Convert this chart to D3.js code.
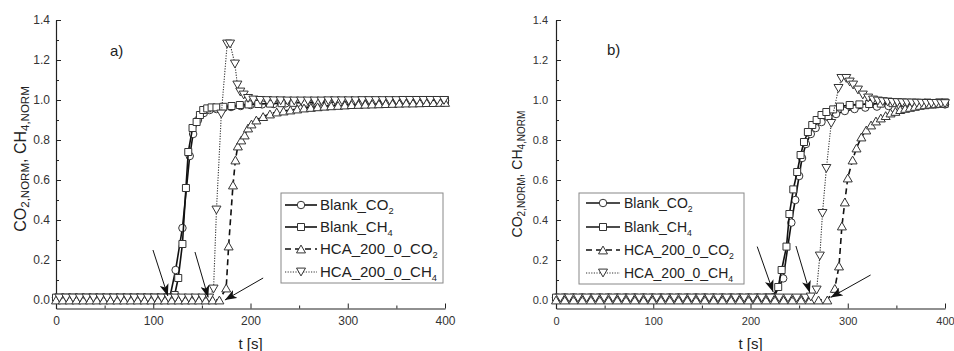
<!DOCTYPE html>
<html>
<head>
<meta charset="utf-8">
<title>Breakthrough curves</title>
<style>
  body { margin: 0; background: #fff; }
  svg { display: block; font-family: "Liberation Sans", Arial, sans-serif; }
  .axis path, .axis line { stroke: #222; }
  .axis text { fill: #333; font-family: "Liberation Sans", Arial, sans-serif; }
</style>
</head>
<body>
<svg width="954" height="351"></svg>
<script src="https://cdnjs.cloudflare.com/ajax/libs/d3/7.8.5/d3.min.js"></script>
<script>
// series names, last character is written as subscript
const seriesNames = ["Blank_CO2", "Blank_CH4", "HCA_200_0_CO2", "HCA_200_0_CH4"];

const xTicks = [0, 100, 200, 300, 400];
const xMinor = [50, 150, 250, 350];
const yTicks = [0, 0.2, 0.4, 0.6, 0.8, 1.0, 1.2, 1.4];
const yMinor = [0.1, 0.3, 0.5, 0.7, 0.9, 1.1, 1.3];

// [t (s), normalized concentration]  -- a)
const blankCO2_a = [[0,0.012],[7,0.012],[14,0.012],[21,0.012],[28,0.012],[35,0.012],[42,0.012],[49,0.012],[56,0.012],
  [63,0.012],[70,0.012],[77,0.012],[84,0.012],[91,0.012],[98,0.012],[105,0.012],[112,0.012],[117,0.012],
  [123,0.15],[130,0.36],[137.5,0.72],[141,0.83],[146,0.9],[152,0.935],[158,0.95],[165,0.955],[172,0.96],
  [180,0.965],[190,0.97],[200,0.975],[212,0.978],[224,0.98],[236,0.983],[248,0.985],[260,0.987],[272,0.988],
  [284,0.99],[296,0.99],[308,0.991],[320,0.992],[332,0.993],[344,0.994],[356,0.995],[368,0.996],[380,0.997],
  [392,0.998],[400,0.998]];
const blankCH4_a = [[0,0.012],[7,0.012],[14,0.012],[21,0.012],[28,0.012],[35,0.012],[42,0.012],[49,0.012],[56,0.012],
  [63,0.012],[70,0.012],[77,0.012],[84,0.012],[91,0.012],[98,0.012],[105,0.012],[112,0.012],[118,0.012],
  [122,0.025],[125.7,0.11],[130,0.28],[133.6,0.56],[136,0.74],[140.4,0.86],[144.6,0.89],[148,0.925],[151.4,0.95],
  [155.5,0.958],[160,0.963],[165,0.963],[172,0.966],[180.5,0.97],[189,0.975],[198,0.978],[208,0.98],[220,0.982],
  [232,0.984],[244,0.986],[256,0.987],[268,0.988],[280,0.989],[292,0.99],[304,0.991],[316,0.992],[328,0.993],
  [340,0.994],[352,0.995],[364,0.995],[376,0.996],[388,0.997],[400,0.998]];
const hcaCO2_a = [[0,0],[7,0],[14,0],[21,0],[28,0],[35,0],[42,0],[49,0],[56,0],[63,0],[70,0],[77,0],[84,0],
  [91,0],[98,0],[105,0],[112,0],[119,0],[126,0],[133,0],[140,0],[147,0],[154,0],[161,0],[168,0],
  [175,0.06],[177.5,0.27],[182,0.575],[184.5,0.7],[187,0.77],[190.5,0.8],[194,0.825],[197.5,0.86],[201,0.88],
  [206,0.9],[213,0.917],[220,0.93],[227,0.94],[234,0.945],[241,0.95],[248,0.955],[255,0.96],[262,0.963],
  [269,0.966],[276,0.969],[283,0.971],[290,0.973],[297,0.975],[304,0.977],[311,0.978],[318,0.979],[325,0.98],
  [332,0.981],[339,0.982],[346,0.983],[353,0.984],[360,0.985],[367,0.985],[374,0.986],[381,0.987],[388,0.987],
  [395,0.988],[400,0.988]];
const hcaCH4_a = [[3.5,0.01],[10.5,0.01],[17.5,0.01],[24.5,0.01],[31.5,0.01],[38.5,0.01],[45.5,0.01],[52.5,0.01],
  [59.5,0.01],[66.5,0.01],[73.5,0.01],[80.5,0.01],[87.5,0.01],[94.5,0.01],[101.5,0.01],[108.5,0.01],[115.5,0.01],
  [122.5,0.01],[129.5,0.01],[136.5,0.01],[143.5,0.01],[150.5,0.01],[157.5,0.01],
  [162,0.055],[165,0.45],[170,0.93],[176,1.28],[179,1.28],[184,1.18],[186.5,1.075],[189.5,1.04],[193,1.025],
  [197.5,1.008],[203,1.0],[210,0.998],[217,0.997],[224,0.996],[231,0.996],[238,0.995],[245,0.995],[252,0.995],
  [259,0.995],[266,0.995],[273,0.995],[280,0.996],[287,0.996],[294,0.996],[301,0.996],[308,0.996],[315,0.997],
  [322,0.997],[329,0.997],[336,0.997],[343,0.997],[350,0.997],[357,0.998],[364,0.998],[371,0.998],[378,0.998],
  [385,0.998],[392,0.998],[399,0.998]];

// [t (s), normalized concentration]  -- b)
const blankCO2_b = [[0,0.012],[9,0.012],[18,0.012],[27,0.012],[36,0.012],[45,0.012],[54,0.012],[63,0.012],[72,0.012],
  [81,0.012],[90,0.012],[99,0.012],[108,0.012],[117,0.012],[126,0.012],[135,0.012],[144,0.012],[153,0.012],
  [162,0.012],[171,0.012],[180,0.012],[189,0.012],[198,0.012],[207,0.012],[216,0.012],[224,0.015],
  [233.6,0.108],[242,0.387],[246,0.5],[250,0.62],[253,0.71],[257,0.78],[262,0.83],[267,0.86],[273,0.89],
  [280,0.915],[288,0.93],[297,0.945],[307,0.955],[318,0.962],[330,0.967],[342,0.97],[354,0.973],[366,0.975],
  [378,0.977],[390,0.978],[400,0.978]];
const blankCH4_b = [[0,0.012],[9,0.012],[18,0.012],[27,0.012],[36,0.012],[45,0.012],[54,0.012],[63,0.012],[72,0.012],
  [81,0.012],[90,0.012],[99,0.012],[108,0.012],[117,0.012],[126,0.012],[135,0.012],[144,0.012],[153,0.012],
  [162,0.012],[171,0.012],[180,0.012],[189,0.012],[198,0.012],[207,0.012],[216,0.012],[222,0.012],
  [228.5,0.065],[232,0.15],[237,0.267],[240,0.43],[244,0.553],[248,0.64],[251.5,0.725],[255,0.79],[259,0.84],
  [263.5,0.875],[268,0.9],[273,0.925],[278,0.94],[285,0.953],[292,0.967],[302,0.975],[312,0.978],[322,0.98],
  [334,0.982],[346,0.984],[358,0.985],[370,0.986],[382,0.987],[394,0.988],[400,0.988]];
const hcaCO2_b = [[0,0],[9,0],[18,0],[27,0],[36,0],[45,0],[54,0],[63,0],[72,0],[81,0],[90,0],[99,0],[108,0],
  [117,0],[126,0],[135,0],[144,0],[153,0],[162,0],[171,0],[180,0],[189,0],[198,0],[207,0],[216,0],[225,0],
  [234,0],[243,0],[252,0],[261,0],[270,0],[279,0],
  [286.7,0.058],[291,0.17],[294,0.37],[297,0.49],[300,0.61],[305,0.7],[309,0.76],[314,0.815],[319,0.85],
  [324,0.875],[329,0.895],[334,0.91],[339,0.922],[344,0.935],[349,0.943],[354,0.952],[359,0.958],[364,0.963],
  [369,0.968],[374,0.973],[379,0.976],[384,0.979],[389,0.981],[394,0.983],[399,0.984]];
const hcaCH4_b = [[4.5,0.01],[13.5,0.01],[22.5,0.01],[31.5,0.01],[40.5,0.01],[49.5,0.01],[58.5,0.01],[67.5,0.01],
  [76.5,0.01],[85.5,0.01],[94.5,0.01],[103.5,0.01],[112.5,0.01],[121.5,0.01],[130.5,0.01],[139.5,0.01],
  [148.5,0.01],[157.5,0.01],[166.5,0.01],[175.5,0.01],[184.5,0.01],[193.5,0.01],[202.5,0.01],[211.5,0.01],
  [220.5,0.01],[229.5,0.01],[238.5,0.01],[247.5,0.01],[256.5,0.01],[262,0.015],
  [268,0.05],[271.3,0.22],[274,0.433],[278,0.658],[283,0.883],[290.5,1.058],[293.5,1.108],[298.5,1.108],
  [302,1.09],[305.5,1.075],[310.5,1.05],[315.5,1.025],[321,1.01],[326,1.0],[331,0.995],[336,0.992],[341,0.99],
  [346,0.988],[351,0.987],[356,0.986],[361,0.985],[366,0.985],[371,0.984],[376,0.984],[381,0.983],[386,0.983],
  [391,0.983],[396,0.982],[400,0.982]];

// breakthrough arrows: [t start, value start, t tip, value tip]
const arrows_a = [[99.7,0.25,115,0.02],[142.9,0.24,156.5,0.013],[213,0.11,173.7,0.0]];
const arrows_b = [[206.9,0.267,223.3,0.04],[246.7,0.27,261,0.036],[323.5,0.125,282.4,0.013]];

const styles = [
  {shape: "circle", size: 7.5, dash: null, width: 1.6, color: "#111"},
  {shape: "square", size: 7, dash: null, width: 1.6, color: "#111"},
  {shape: "up", size: 9, dash: "6,4", width: 1.6, color: "#111"},
  {shape: "down", size: 9, dash: "1.2,1.4", width: 1.1, color: "#333"}
];

const panels = [
  {tag: "a)", x0: 56, x1: 445, series: [blankCO2_a, blankCH4_a, hcaCO2_a, hcaCH4_a], arrows: arrows_a,
   tickFont: 12, xPad: 7.5, yPad: 6, labelFont: 16, subFont: 11.5, ylab: [26, 159], tagPos: [110, 56],
   legend: {x: 281, y: 193, w: 162, h: 90, rows: [12, 34, 56, 79], line: [4, 36], text: 39, font: 15}},
  {tag: "b)", x0: 556, x1: 945, series: [blankCO2_b, blankCH4_b, hcaCO2_b, hcaCH4_b], arrows: arrows_b,
   tickFont: 11, xPad: 9, yPad: 8, labelFont: 14, subFont: 10, ylab: [522, 174], tagPos: [607, 55],
   legend: {x: 579, y: 193, w: 165, h: 91, rows: [10, 34, 57, 80], line: [7, 41], text: 45, font: 14}}
];

function markerPath(shape, s) {
  const r = s / 2;
  if (shape === "circle") return `M${-r},0A${r},${r} 0 1,0 ${r},0A${r},${r} 0 1,0 ${-r},0Z`;
  if (shape === "square") return `M${-r},${-r}H${r}V${r}H${-r}Z`;
  const h = s * 0.87;
  if (shape === "up") return `M0,${-h / 2}L${r},${h / 2}L${-r},${h / 2}Z`;
  return `M0,${h / 2}L${r},${-h / 2}L${-r},${-h / 2}Z`;
}

const svg = d3.select("svg");

svg.append("defs").append("marker")
  .attr("id", "head")
  .attr("markerUnits", "userSpaceOnUse")
  .attr("markerWidth", 13).attr("markerHeight", 9)
  .attr("refX", 12).attr("refY", 4.5)
  .attr("orient", "auto")
  .append("path")
  .attr("d", "M0,0L12,4.5L0,9L3,4.5Z")
  .attr("fill", "#111");

function drawPanel(p) {
  const g = svg.append("g");
  const x = d3.scaleLinear().domain([0, 400]).range([p.x0, p.x1]);
  const y = d3.scaleLinear().domain([-0.0425, 1.4]).range([308.5, 20]);
  const y0 = y.range()[0];

  // axes: major ticks labelled, minor ticks shorter, all pointing inward
  const xa = g.append("g").attr("class", "axis").attr("transform", `translate(0,${y0})`);
  xa.call(d3.axisBottom(x).tickValues(xTicks).tickSizeInner(-5).tickSizeOuter(0)
    .tickPadding(p.xPad).tickFormat(d3.format("d")));
  xa.append("g").call(d3.axisBottom(x).tickValues(xMinor).tickSizeInner(-3).tickSizeOuter(0).tickFormat(""))
    .select(".domain").remove();
  const ya = g.append("g").attr("class", "axis").attr("transform", `translate(${p.x0},0)`);
  ya.call(d3.axisLeft(y).tickValues(yTicks).tickSizeInner(-5).tickSizeOuter(0)
    .tickPadding(p.yPad).tickFormat(d3.format(".1f")));
  ya.append("g").call(d3.axisLeft(y).tickValues(yMinor).tickSizeInner(-3).tickSizeOuter(0).tickFormat(""))
    .select(".domain").remove();
  g.selectAll(".axis").attr("font-size", p.tickFont);
  g.selectAll(".axis .domain").attr("stroke-width", 1.2);
  g.selectAll(".axis .tick line").attr("stroke-width", 1);

  g.append("text")
    .attr("x", (p.x0 + p.x1) / 2).attr("y", 348.5)
    .attr("text-anchor", "middle").attr("font-size", 15).attr("fill", "#222")
    .text("t [s]");

  const yl = g.append("text")
    .attr("transform", `translate(${p.ylab[0]},${p.ylab[1]}) rotate(-90)`)
    .attr("text-anchor", "middle").attr("font-size", p.labelFont).attr("fill", "#222");
  yl.append("tspan").text("CO");
  yl.append("tspan").attr("font-size", p.subFont).attr("dy", p.subFont * 0.3).text("2,NORM");
  yl.append("tspan").attr("dy", -p.subFont * 0.3).text(", CH");
  yl.append("tspan").attr("font-size", p.subFont).attr("dy", p.subFont * 0.3).text("4,NORM");

  g.append("text")
    .attr("x", p.tagPos[0]).attr("y", p.tagPos[1])
    .attr("font-size", 15).attr("fill", "#222")
    .text(p.tag);

  const line = d3.line().x(d => x(d[0])).y(d => y(d[1]));

  p.series.forEach((data, i) => {
    const st = styles[i];
    g.append("path")
      .datum(data)
      .attr("d", line)
      .attr("fill", "none")
      .attr("stroke", st.color)
      .attr("stroke-width", st.width)
      .attr("stroke-dasharray", st.dash);
    g.append("g").selectAll("path")
      .data(data)
      .join("path")
      .attr("transform", d => `translate(${x(d[0])},${y(d[1])})`)
      .attr("d", markerPath(st.shape, st.size))
      .attr("fill", "#fff")
      .attr("stroke", "#333")
      .attr("stroke-width", 1);
  });

  g.append("g").selectAll("line")
    .data(p.arrows)
    .join("line")
    .attr("x1", d => x(d[0])).attr("y1", d => y(d[1]))
    .attr("x2", d => x(d[2])).attr("y2", d => y(d[3]))
    .attr("stroke", "#111").attr("stroke-width", 1)
    .attr("marker-end", "url(#head)");

  // legend
  const L = p.legend;
  const lg = g.append("g").attr("transform", `translate(${L.x},${L.y})`);
  lg.append("rect")
    .attr("width", L.w).attr("height", L.h)
    .attr("fill", "#fff").attr("stroke", "#888").attr("stroke-width", 1);
  seriesNames.forEach((name, i) => {
    const st = styles[i];
    const row = lg.append("g").attr("transform", `translate(0,${L.rows[i]})`);
    row.append("line")
      .attr("x1", L.line[0]).attr("x2", L.line[1])
      .attr("stroke", st.color).attr("stroke-width", st.width)
      .attr("stroke-dasharray", st.dash);
    row.append("path")
      .attr("transform", `translate(${(L.line[0] + L.line[1]) / 2},0)`)
      .attr("d", markerPath(st.shape, st.size))
      .attr("fill", "#fff").attr("stroke", "#333").attr("stroke-width", 1);
    const t = row.append("text")
      .attr("x", L.text).attr("y", L.font * 0.36)
      .attr("font-size", L.font).attr("fill", "#222");
    t.append("tspan").text(name.slice(0, -1));
    t.append("tspan").attr("font-size", L.font * 0.62).attr("dy", L.font * 0.25).text(name.slice(-1));
  });
}

panels.forEach(drawPanel);
</script>
</body>
</html>
